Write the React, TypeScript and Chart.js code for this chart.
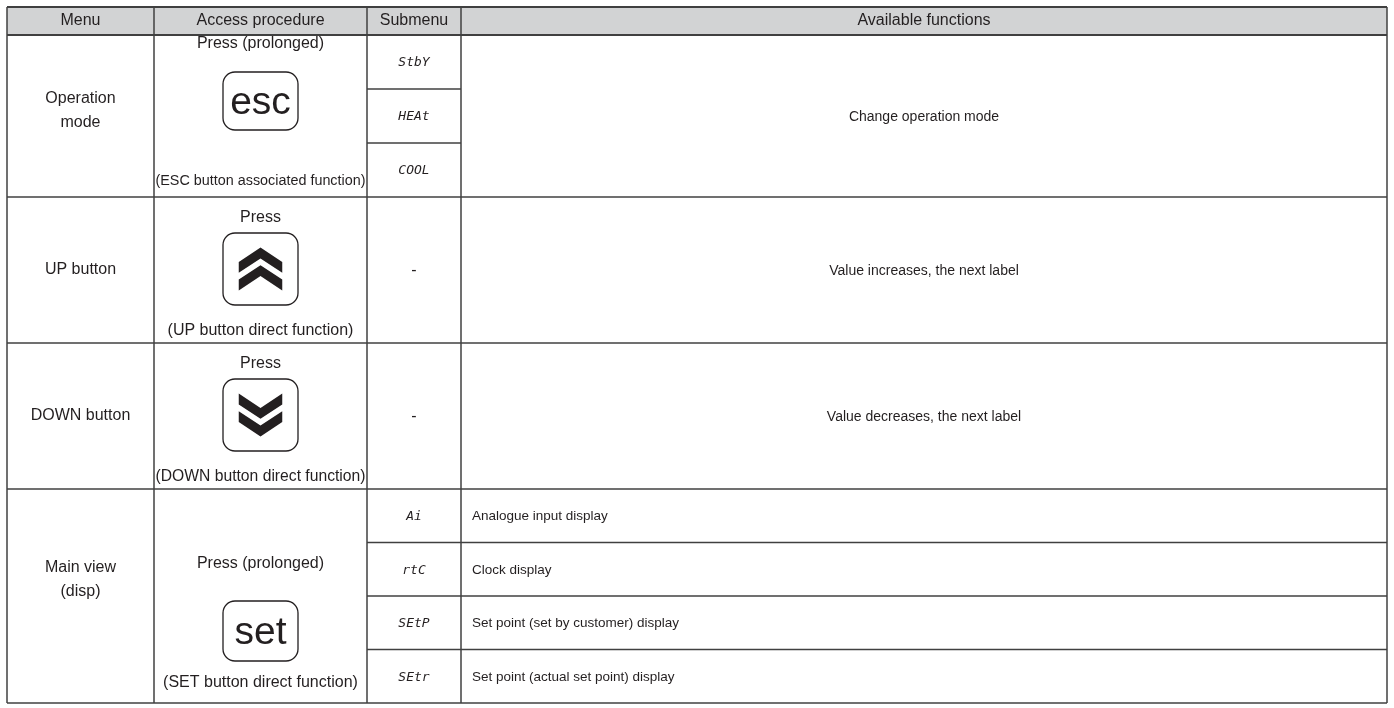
import React, { useEffect, useRef } from "react";
import { Chart, registerables } from "chart.js";

Chart.register(...registerables);

// ---- table content ----
const headers = ["Menu", "Access procedure", "Submenu", "Available functions"];
const menus = [["Operation", "mode"], ["UP button"], ["DOWN button"], ["Main view", "(disp)"]];
const accessTop = ["Press (prolonged)", "Press", "Press", "Press (prolonged)"];
const buttons = ["esc", "up", "down", "set"];
const accessBottom = [
  "(ESC button associated function)",
  "(UP button direct function)",
  "(DOWN button direct function)",
  "(SET button direct function)",
];
const submenus = [["StbY", "HEAt", "COOL"], ["-"], ["-"], ["Ai", "rtC", "SEtP", "SEtr"]];
const functions = [
  ["Change operation mode"],
  ["Value increases, the next label"],
  ["Value decreases, the next label"],
  [
    "Analogue input display",
    "Clock display",
    "Set point (set by customer) display",
    "Set point (actual set point) display",
  ],
];

// ---- layout (in scale units) ----
const W = 1394;
const H = 708;
const COLS = [7, 154, 367, 461, 1387];
const HEAD = [7, 35];
const ROWS = [35, 197, 343, 489, 703];
const MENU_Y = [111, 270, 416, 580];
const TOP_TEXT_Y = [44, 218, 364, 564];
const BOX_Y = [[72, 130], [233, 305], [379, 451], [601, 661]];
const BOTTOM_TEXT_Y = [181, 331, 477, 683];
const BOTTOM_FONT = [15.2, 16, 16, 16];
const BOX_X = [223, 298];
const FUNC_MERGED = [true, true, true, false];
const FUNC_LEFT_PAD = 11;
const ACCESS_MAX_W = 210;

const FONT = "'Liberation Sans', Arial, sans-serif";
const INK = "#231f20";
const LINE = "#404040";

const tablePlugin = {
  id: "tableDraw",
  afterDraw(chart: any) {
    const ctx = chart.ctx as CanvasRenderingContext2D;
    const xs = chart.scales.x;
    const ys = chart.scales.y;
    const px = (v: number) => xs.getPixelForValue(v);
    const py = (v: number) => ys.getPixelForValue(v);

    ctx.save();
    // header fill
    ctx.fillStyle = "#d2d3d4";
    ctx.fillRect(px(COLS[0]), py(HEAD[0]), px(COLS[4]) - px(COLS[0]), py(HEAD[1]) - py(HEAD[0]));

    ctx.fillStyle = INK;
    ctx.textAlign = "center";
    ctx.textBaseline = "middle";

    // header text
    ctx.font = `16px ${FONT}`;
    headers.forEach((h, i) => {
      ctx.fillText(h, (px(COLS[i]) + px(COLS[i + 1])) / 2, (py(HEAD[0]) + py(HEAD[1])) / 2);
    });

    const cx = (i: number) => (px(COLS[i]) + px(COLS[i + 1])) / 2;
    const maxW = px(COLS[0] + ACCESS_MAX_W) - px(COLS[0]);

    menus.forEach((lines, r) => {
      const top = py(ROWS[r]);
      const bot = py(ROWS[r + 1]);
      const mid = (top + bot) / 2;
      // menu
      ctx.font = `16px ${FONT}`;
      ctx.textAlign = "center";
      const lh = 24;
      const my = py(MENU_Y[r]);
      lines.forEach((t, k) => {
        ctx.fillText(t, cx(0), my + (k - (lines.length - 1) / 2) * lh);
      });
      // access procedure
      ctx.fillText(accessTop[r], cx(1), py(TOP_TEXT_Y[r]), maxW);
      ctx.font = `${BOTTOM_FONT[r]}px ${FONT}`;
      ctx.fillText(accessBottom[r], cx(1), py(BOTTOM_TEXT_Y[r]), maxW);
      // button box
      const bx0 = px(BOX_X[0]);
      const bx1 = px(BOX_X[1]);
      const by0 = py(BOX_Y[r][0]);
      const by1 = py(BOX_Y[r][1]);
      ctx.lineWidth = 1.3;
      ctx.strokeStyle = INK;
      ctx.beginPath();
      ctx.roundRect(bx0, by0, bx1 - bx0, by1 - by0, 12);
      ctx.stroke();
      const bcx = (bx0 + bx1) / 2;
      const bcy = (by0 + by1) / 2;
      const bh = by1 - by0;
      const bw = bx1 - bx0;
      const kind = buttons[r];
      if (kind === "esc" || kind === "set") {
        ctx.font = `39px ${FONT}`;
        ctx.fillText(kind, bcx, bcy + 2);
      } else {
        const hw = bw * 0.29;
        const h = bh * 0.2;
        const t = bh * 0.15;
        const off = bh * 0.245;
        const total = h + t + off;
        const dir = kind === "up" ? 1 : -1;
        const start = bcy - (dir * total) / 2;
        for (let c = 0; c < 2; c++) {
          const ay = start + dir * c * off;
          ctx.beginPath();
          ctx.moveTo(bcx - hw, ay + dir * h);
          ctx.lineTo(bcx, ay);
          ctx.lineTo(bcx + hw, ay + dir * h);
          ctx.lineTo(bcx + hw, ay + dir * (h + t));
          ctx.lineTo(bcx, ay + dir * t);
          ctx.lineTo(bcx - hw, ay + dir * (h + t));
          ctx.closePath();
          ctx.fill();
        }
      }
      // submenus & functions
      const subs = submenus[r];
      const n = subs.length;
      const sh = (bot - top) / n;
      subs.forEach((s, k) => {
        const y = top + sh * (k + 0.5);
        if (s === "-") {
          ctx.font = `16px ${FONT}`;
        } else {
          ctx.font = `italic 13px 'DejaVu Sans Mono', monospace`;
        }
        ctx.textAlign = "center";
        ctx.fillText(s, cx(2), y + 1);
      });
      const fn = functions[r];
      if (FUNC_MERGED[r]) {
        ctx.font = `14px ${FONT}`;
        ctx.textAlign = "center";
        ctx.fillText(fn[0], cx(3), mid + 1);
      } else {
        ctx.font = `13.5px ${FONT}`;
        ctx.textAlign = "left";
        fn.forEach((f, k) => {
          ctx.fillText(f, px(COLS[3]) + FUNC_LEFT_PAD, top + sh * (k + 0.5) + 1);
        });
      }
    });

    // grid lines
    ctx.strokeStyle = LINE;
    const hline = (y: number, x0: number, x1: number, w: number) => {
      ctx.lineWidth = w;
      ctx.beginPath();
      ctx.moveTo(px(x0), py(y));
      ctx.lineTo(px(x1), py(y));
      ctx.stroke();
    };
    const vline = (x: number, y0: number, y1: number, w: number) => {
      ctx.lineWidth = w;
      ctx.beginPath();
      ctx.moveTo(px(x), py(y0));
      ctx.lineTo(px(x), py(y1));
      ctx.stroke();
    };
    COLS.forEach((c) => vline(c, HEAD[0], ROWS[4], 1.5));
    hline(HEAD[0], COLS[0], COLS[4], 2);
    hline(HEAD[1], COLS[0], COLS[4], 2);
    ROWS.slice(1).forEach((y) => hline(y, COLS[0], COLS[4], 1.5));
    submenus.forEach((subs, r) => {
      const n = subs.length;
      if (n < 2) return;
      const top = ROWS[r];
      const sh = (ROWS[r + 1] - top) / n;
      const x1 = FUNC_MERGED[r] ? COLS[3] : COLS[4];
      for (let k = 1; k < n; k++) hline(top + sh * k, COLS[2], x1, 1.5);
    });
    ctx.restore();
  },
};

export default function App() {
  const ref = useRef<HTMLCanvasElement | null>(null);
  useEffect(() => {
    if (!ref.current) return;
    const chart = new Chart(ref.current, {
      type: "scatter",
      data: { datasets: [{ data: [], pointRadius: 0 }] },
      options: {
        animation: false,
        responsive: false,
        maintainAspectRatio: false,
        events: [],
        layout: { padding: 0 },
        plugins: { legend: { display: false }, tooltip: { enabled: false }, title: { display: false } },
        scales: {
          x: { type: "linear", min: 0, max: W, display: false },
          y: { type: "linear", min: 0, max: H, reverse: true, display: false },
        },
      },
      plugins: [tablePlugin],
    });
    return () => chart.destroy();
  }, []);
  return (
    <div style={{ position: "fixed", left: 0, top: 0, width: W, height: H, background: "#fff" }}>
      <canvas ref={ref} width={W} height={H} style={{ display: "block" }} />
    </div>
  );
}
